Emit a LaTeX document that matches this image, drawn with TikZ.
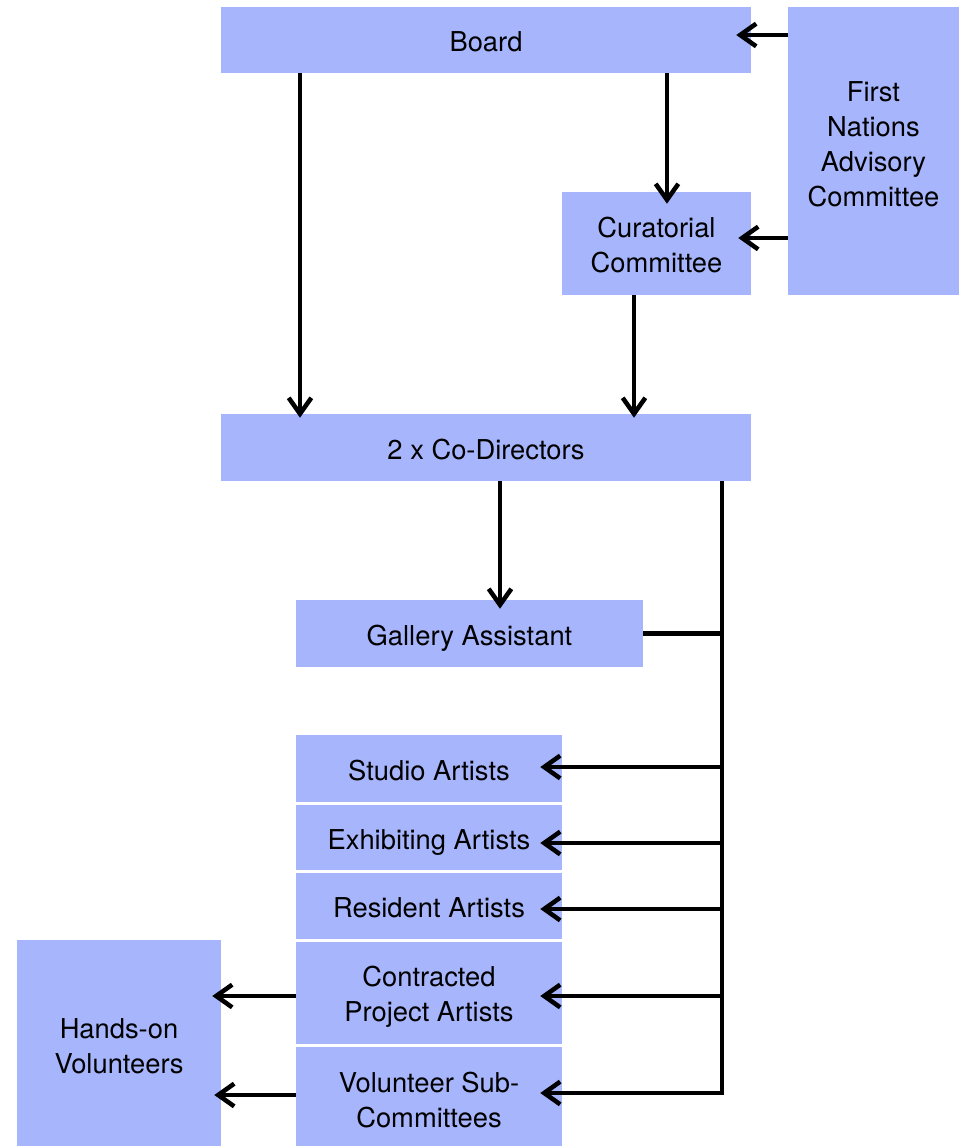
\documentclass[tikz,border=0pt]{standalone}
\usepackage{fontspec}
\setmainfont{TeX Gyre Heros}
\usetikzlibrary{arrows.meta,calc}
\definecolor{boxblue}{RGB}{166,181,252}
\tikzset{
  box/.style={fill=boxblue, inner sep=0pt, align=center, text=black,
    font=\fontsize{20.5}{26.3}\selectfont},
  one/.style={text height=20pt, text depth=2.7pt},
  txt/.style={inner sep=0pt, align=center, text=black,
    font=\fontsize{20.5}{26.3}\selectfont},
  ln/.style={line width=3.4pt, draw=black},
  arr/.style={ln, -{Straight Barb[length=12pt,width=17pt]}},
}
\begin{document}
\begin{tikzpicture}[x=0.75pt,y=-0.75pt]
\useasboundingbox (0,0) rectangle (969,1146);
% boxes
\node[box, one, minimum width=530*0.75pt, minimum height=66*0.75pt] (board) at (486,40) {Board};
\node[box, minimum width=171*0.75pt, minimum height=288*0.75pt] (fnac) at (873.5,151) {};
\node[txt] (fnacT) at ([yshift=5.3pt]fnac.center) {First\\Nations\\Advisory\\Committee};
\node[box, minimum width=189*0.75pt, minimum height=103*0.75pt] (cur) at (656.5,243.5) {};
\node[txt] (curT) at ([yshift=-0.8pt]cur.center) {Curatorial\\Committee};
\node[box, one, minimum width=530*0.75pt, minimum height=67*0.75pt] (codir) at (486,447.5) {2 x Co-Directors};
\node[box, one, minimum width=347*0.75pt, minimum height=67*0.75pt] (gal) at (469.5,633.5) {Gallery Assistant};
\node[box, one, minimum width=266*0.75pt, minimum height=67*0.75pt] (studio) at (429,768.5) {Studio Artists};
\node[box, one, minimum width=266*0.75pt, minimum height=65*0.75pt] (exhib) at (429,837.5) {Exhibiting Artists};
\node[box, one, minimum width=266*0.75pt, minimum height=66*0.75pt] (resid) at (429,906) {Resident Artists};
\node[box, minimum width=266*0.75pt, minimum height=102*0.75pt] (contr) at (429,993) {};
\node[txt] (contrT) at ([yshift=-3pt]contr.center) {Contracted\\Project Artists};
\node[box, minimum width=266*0.75pt, minimum height=99*0.75pt] (volsub) at (429,1096.5) {};
\node[txt] (volsubT) at ([yshift=-2.3pt]volsub.center) {Volunteer Sub-\\Committees};
\node[box, minimum width=204*0.75pt, minimum height=206*0.75pt] (hands) at (119,1043) {};
\node[txt] (handsT) at ([yshift=-2.3pt]hands.center) {Hands-on\\Volunteers};
% connectors
\draw[arr] (fnac.west |- 0,35) -- ($(board.east |- 0,35)+(-15,0)$);
\draw[arr] (fnac.west |- 0,238) -- ($(cur.east |- 0,238)+(-13,0)$);
\draw[arr] (board.south -| 667,0) -- ($(cur.north -| 667,0)+(0,12)$);
\draw[arr] (board.south -| 300,0) -- ($(codir.north -| 300,0)+(0,4)$);
\draw[arr] (cur.south -| 634,0) -- ($(codir.north -| 634,0)+(0,4)$);
\draw[arr] (codir.south -| 500,0) -- ($(gal.north -| 500,0)+(0,9)$);
\coordinate (busend) at (722,1093);
\draw[ln] (codir.south -| busend) -- ([yshift=-1.7pt]busend);
\draw[ln] (gal.east) -- (gal.east -| busend);
\draw[arr] (busend |- 0,767) -- ($(studio.east |- 0,767)+(-22,0)$);
\draw[arr] (busend |- 0,843) -- ($(exhib.east |- 0,843)+(-22,0)$);
\draw[arr] (busend |- 0,909) -- ($(resid.east |- 0,909)+(-22,0)$);
\draw[arr] (busend |- 0,996) -- ($(contr.east |- 0,996)+(-22,0)$);
\draw[arr] ([xshift=1.7pt]busend) -- ($(volsub.east |- busend)+(-22,0)$);
\draw[arr] (contr.west |- 0,996) -- ($(hands.east |- 0,996)+(-9,0)$);
\draw[arr] (volsub.west |- 0,1095) -- ($(hands.east |- 0,1095)+(-7,0)$);
\end{tikzpicture}
\end{document}
